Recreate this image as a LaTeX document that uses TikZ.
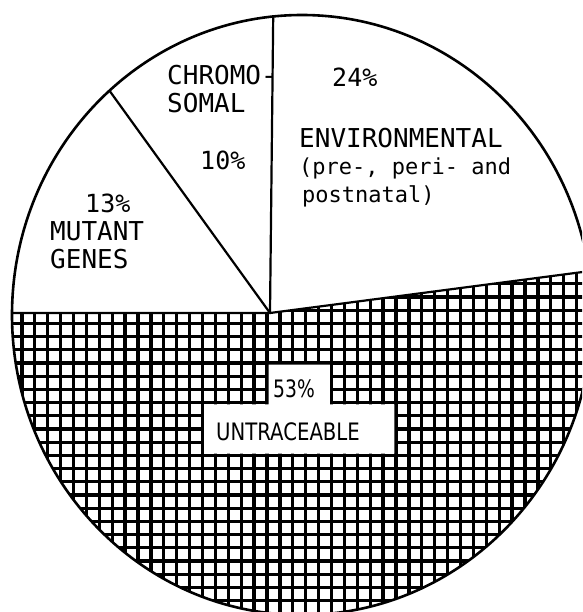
\documentclass[tikz,border=0pt]{standalone}
\usepackage{fontspec}
\usepackage{graphicx}
\newfontfamily\lblmono{DejaVu Sans Mono}
\newfontfamily\lblsans{DejaVu Sans}
\begin{document}
\begin{tikzpicture}[x=1pt,y=-1pt,
  outline/.style={line width=2.6pt},
  divider/.style={line width=2.2pt},
  hatchline/.style={line width=3.3pt},
  capslbl/.style={anchor=base west, inner sep=0pt, font=\lblmono\fontsize{26}{28}\selectfont},
  pctlbl/.style={anchor=base west, inner sep=0pt, font=\lblmono\fontsize{25}{28}\selectfont},
  lowlbl/.style={anchor=base west, inner sep=0pt, font=\lblmono\fontsize{22}{28}\selectfont},
  boxlbl/.style={anchor=base west, inner sep=0pt, font=\lblsans\fontsize{24}{28}\selectfont}
]
\useasboundingbox (0,0) rectangle (582,612);
\clip (0,0) rectangle (582,612);

\coordinate (A) at (270,313);
\coordinate (C) at (302,315);
\coordinate (Pl) at ({302+290*cos(180.38)},{315+300*sin(180.38)});
\coordinate (Pmc) at ({302+290*cos(228.4)},{315+300*sin(228.4)});
\coordinate (Pce) at ({302+290*cos(264.3)},{315+300*sin(264.3)});
\coordinate (Peu) at ({302+290*cos(-8.4)},{315+300*sin(-8.4)});

% hatching of the untraceable sector
\begin{scope}
  \clip (A) -- (Peu) -- plot[domain=-8.4:180.38, samples=160] ({302+290*cos(\x)},{315+300*sin(\x)}) -- cycle;
  \foreach \i in {-25,...,30} \draw[hatchline] ({267+12.9*\i},230) -- ({267+12.9*\i},640);
  \foreach \j in {-10,...,20} \draw[hatchline] (-20,{363+13.2*\j}) -- (620,{363+13.2*\j});
  \fill[white] (268.7,364.7) -- (329.8,364.7) -- (329.8,404.3) -- (394.3,404.3) -- (394.3,453.7)
     -- (204.2,453.7) -- (204.2,404.3) -- (268.7,404.3) -- cycle;
\end{scope}

% dividers and outline
\draw[divider] (A) -- (Pl);
\draw[divider] (A) -- (Pmc);
\draw[divider] (A) -- (Pce);
\draw[divider] (A) -- (Peu);
\draw[outline] (C) ellipse [x radius=290pt, y radius=300pt];

% labels
\node[capslbl] (chr1) at (167,85) {CHROMO-};
\node[capslbl] (chr2) at (167,113) {SOMAL};
\node[pctlbl] (p10) at (200,170) {10\%};
\node[pctlbl] (p24) at (332,87) {24\%};
\node[capslbl] (env1) at (299,148) {ENVIRONMENTAL};
\node[lowlbl] (env2) at (299,175) {(pre-, peri- and};
\node[lowlbl] (env3) at (302,203) {postnatal)};
\node[pctlbl] (p13) at (85,212) {13\%};
\node[capslbl] (mut1) at (50,240) {MUTANT};
\node[capslbl] (mut2) at (50,268) {GENES};
\node[boxlbl] (p53) at (273,397) {\scalebox{0.78}[1]{53\%}};
\node[boxlbl] (untr) at (216,440) {\scalebox{0.82}[1]{UNTRACEABLE}};
\end{tikzpicture}
\end{document}
